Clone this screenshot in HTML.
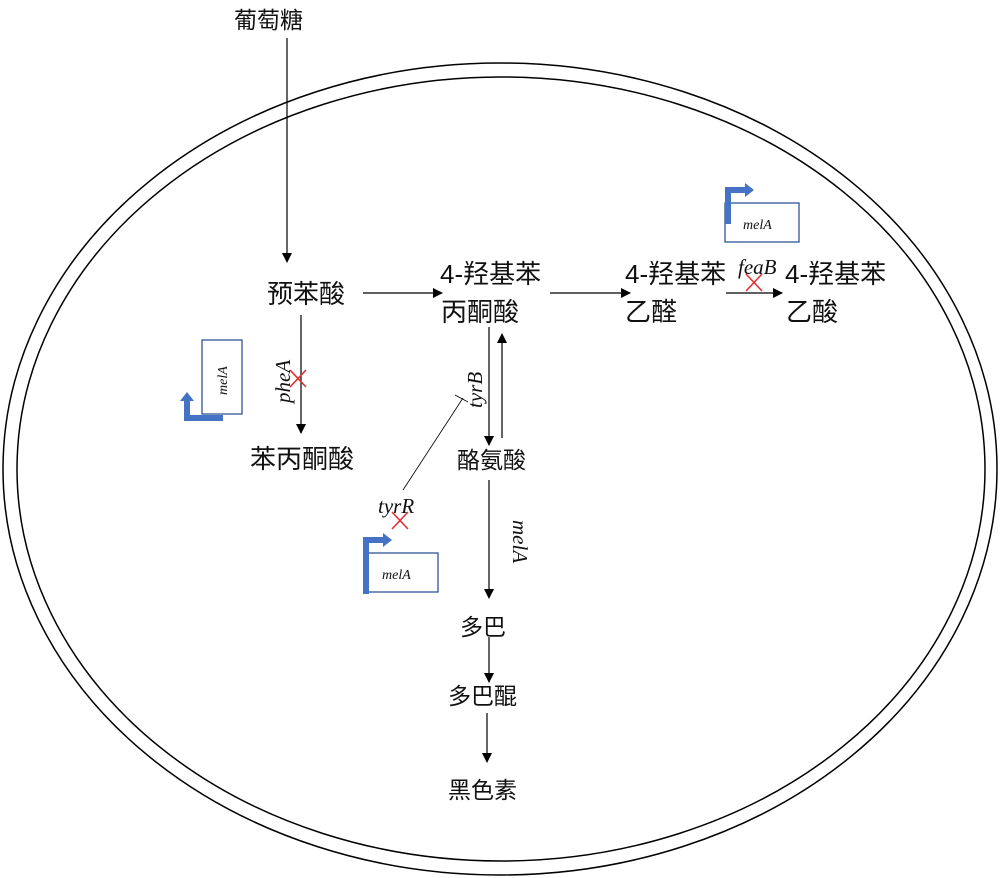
<!DOCTYPE html>
<html><head><meta charset="utf-8"><style>
html,body{margin:0;padding:0;background:#fff;}
svg{display:block}
.c{font-family:"Liberation Sans","Noto Sans CJK SC",sans-serif;fill:#111;}
.i{font-family:"Liberation Serif",serif;font-style:italic;fill:#111;}
</style></head><body>
<svg width="1000" height="878" viewBox="0 0 1000 878" xmlns="http://www.w3.org/2000/svg">
<defs><marker id="a" markerWidth="10" markerHeight="10" refX="9" refY="5" orient="auto" markerUnits="userSpaceOnUse"><path d="M0,0 L10,5 L0,10z" fill="#000"/></marker></defs>
<ellipse cx="500" cy="469" rx="497" ry="406" fill="none" stroke="#000" stroke-width="1.5"/>
<ellipse cx="501" cy="469" rx="484" ry="392" fill="none" stroke="#000" stroke-width="1.5"/>
<g stroke="#000" stroke-width="1.2" fill="none">
<line x1="287" y1="38" x2="287" y2="262" marker-end="url(#a)"/>
<line x1="363" y1="293" x2="442" y2="293" marker-end="url(#a)"/>
<line x1="550" y1="293" x2="630" y2="293" marker-end="url(#a)"/>
<line x1="726" y1="293" x2="782" y2="293" marker-end="url(#a)"/>
<line x1="301" y1="315" x2="301" y2="433" marker-end="url(#a)"/>
<line x1="489" y1="327" x2="489" y2="445" marker-end="url(#a)"/>
<line x1="502" y1="438" x2="502" y2="334" marker-end="url(#a)"/>
<line x1="489" y1="480" x2="489" y2="598" marker-end="url(#a)"/>
<line x1="489" y1="637" x2="489" y2="682" marker-end="url(#a)"/>
<line x1="487" y1="713" x2="487" y2="762" marker-end="url(#a)"/>
<line x1="403" y1="490" x2="463" y2="398" stroke-width="0.8"/>
<line x1="455" y1="395" x2="468" y2="402" stroke-width="0.8"/>
</g>
<g fill="#fff" stroke="#2f5597" stroke-width="1.3">
<rect x="202" y="340" width="40" height="74"/>
<rect x="364" y="553" width="74" height="39"/>
<rect x="725" y="203" width="74" height="39"/>
</g>
<g fill="none" stroke="#4472c4" stroke-width="6">
<path d="M223,418 H187 V400"/>
<path d="M366,594 V540 H384"/>
<path d="M728,224 V190 H746"/>
</g>
<g fill="#4472c4">
<path d="M180,401 L187,392 L194,401z"/>
<path d="M383,533 L392,540 L383,547z"/>
<path d="M745,183 L754,190 L745,197z"/>
</g>
<g stroke="#e03030" stroke-width="1.6">
<line x1="290" y1="370" x2="306" y2="387"/><line x1="306" y1="370" x2="290" y2="387"/>
<line x1="392" y1="512" x2="408" y2="529"/><line x1="408" y1="512" x2="392" y2="529"/>
<line x1="746" y1="274" x2="762" y2="291"/><line x1="762" y1="274" x2="746" y2="291"/>
</g>
<g class="c" font-size="23">
<text x="234" y="28">葡萄糖</text>
</g>
<g class="c" font-size="26">
<text x="267" y="303">预苯酸</text>
<text x="440" y="283">4-羟基苯</text>
<text x="441" y="321">丙酮酸</text>
<text x="625" y="283">4-羟基苯</text>
<text x="625" y="321">乙醛</text>
<text x="785" y="283">4-羟基苯</text>
<text x="786" y="321">乙酸</text>
<text x="250" y="468">苯丙酮酸</text>
</g>
<g class="c" font-size="23">
<text x="457" y="468">酪氨酸</text>
<text x="460" y="635">多巴</text>
<text x="448" y="704">多巴醌</text>
<text x="448" y="798">黑色素</text>
</g>
<g class="i">
<text x="0" y="0" font-size="21" transform="translate(290,403) rotate(-90)">pheA</text>
<text x="0" y="0" font-size="21" transform="translate(482,408) rotate(-90)">tyrB</text>
<text x="0" y="0" font-size="21" transform="translate(513,520) rotate(90)">melA</text>
<text x="378" y="513" font-size="21">tyrR</text>
<text x="738" y="274" font-size="21">feaB</text>
<text x="0" y="0" font-size="14" transform="translate(227,395) rotate(-90)">melA</text>
<text x="382" y="579" font-size="14">melA</text>
<text x="743" y="229" font-size="14">melA</text>
</g>
</svg>
</body></html>
